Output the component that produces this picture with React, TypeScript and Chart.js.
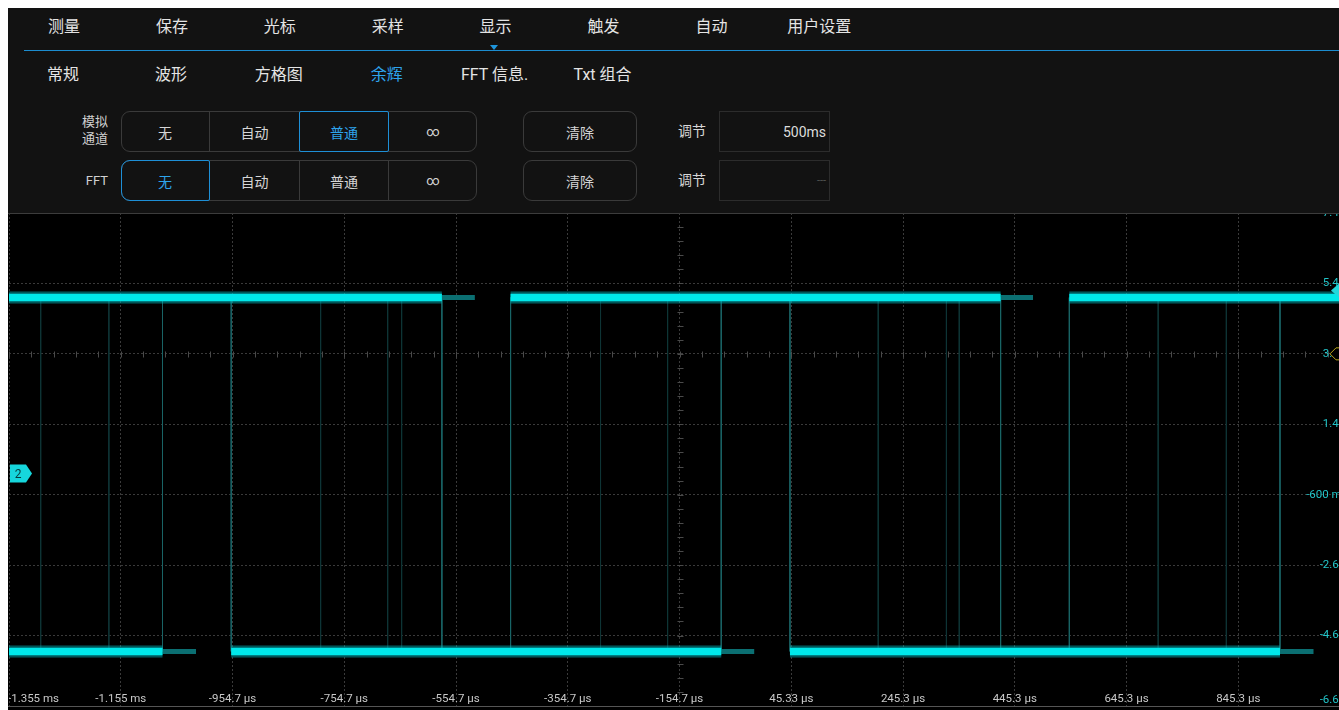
import React, { useEffect, useRef } from "react";
import { Chart, registerables } from "chart.js";

Chart.register(...registerables);

// ---------- data ----------
const menuTop = ["测量", "保存", "光标", "采样", "显示", "触发", "自动", "用户设置"];
const menuSub = ["常规", "波形", "方格图", "余辉", "FFT 信息.", "Txt 组合"];
const persistModes = ["无", "自动", "普通", "∞"];

const xTickValues = [-1354.7, -1154.7, -954.7, -754.7, -554.7, -354.7, -154.7, 45.33, 245.3, 445.3, 645.3, 845.3, 1045.3];
const xTickLabels = ["-1.355 ms", "-1.155 ms", "-954.7 µs", "-754.7 µs", "-554.7 µs", "-354.7 µs", "-154.7 µs", "45.33 µs", "245.3 µs", "445.3 µs", "645.3 µs", "845.3 µs", "1.045 ms"];
const yTickValues = [7.4, 5.4, 3.4, 1.4, -0.6, -2.6, -4.6, -6.6];
const yTickLabels = ["7.4 V", "5.4 V", "3.4 V", "1.4 V", "-600 mV", "-2.6 V", "-4.6 V", "-6.6 V"];

const highLevel = 5.0;
const lowLevel = -5.05;
// [start µs, end µs]
const highSegments = [[-1354.7, -580], [-457, 420], [543, 1045.3]];
const lowSegments = [[-1354.7, -1080], [-957, -80], [43, 920]];
const fadeHighSegments = [[-580, -521], [420, 478]];
const fadeLowSegments = [[-1080, -1020], [-80, -21], [920, 980]];
const edgeTimes = [-1080, -957, -580, -457, -80, 43, 420, 543, 920];
const ghostEdgeTimes = [-1298, -1176, -797, -677, -652, -296, -176, 201, 323, 346, 702, 824];
const groundLevel = 0;
const triggerLevel = 3.4;
const channelMarkerLevel = 5.2;

// ---------- helpers ----------
const UI_FONT = "Roboto, 'Noto Sans CJK SC', sans-serif";

function segPoints(segs: number[][], level: number) {
  const pts: any[] = [];
  segs.forEach(([a, b]) => {
    pts.push({ x: a, y: level }, { x: b, y: level }, { x: b, y: null });
  });
  return pts;
}
function vertPoints(times: number[]) {
  const pts: any[] = [];
  times.forEach((t) => {
    pts.push({ x: t, y: highLevel }, { x: t, y: lowLevel }, { x: t, y: null });
  });
  return pts;
}

const scopePlugin = {
  id: "scopeOverlay",
  beforeDatasetsDraw(chart: any) {
    const { ctx, scales } = chart;
    const xs = scales.x, ys = scales.y;
    ctx.save();
    ctx.strokeStyle = "#4a4a4a";
    ctx.lineWidth = 1;
    const cy = Math.round(ys.getPixelForValue(3.4)) + 0.5;
    for (let v = -1354.7; v <= 1045.3; v += 40) {
      const px = Math.round(xs.getPixelForValue(v)) + 0.5;
      ctx.beginPath();
      ctx.moveTo(px, cy - 3);
      ctx.lineTo(px, cy + 3);
      ctx.stroke();
    }
    const cx = Math.round(xs.getPixelForValue(-154.7)) + 0.5;
    for (let v = -6.6; v <= 7.4; v += 0.4) {
      const py = Math.round(ys.getPixelForValue(v)) + 0.5;
      ctx.beginPath();
      ctx.moveTo(cx - 3, py);
      ctx.lineTo(cx + 3, py);
      ctx.stroke();
    }
    ctx.restore();
  },
  afterDatasetsDraw(chart: any) {
    const { ctx, chartArea, scales } = chart;
    const xs = scales.x, ys = scales.y;
    ctx.save();
    ctx.font = "11.5px Roboto, sans-serif";
    ctx.textBaseline = "middle";
    // x labels (only those that fit inside the plot)
    ctx.fillStyle = "#c8c8c8";
    xTickValues.forEach((v, i) => {
      const px = xs.getPixelForValue(v);
      const w = ctx.measureText(xTickLabels[i]).width;
      if (i > 0 && px + w / 2 > chartArea.right - 10) return;
      ctx.textAlign = i === 0 ? "left" : "center";
      ctx.fillText(xTickLabels[i], i === 0 ? chartArea.left - 1 : px, chartArea.bottom - 7);
    });
    // y labels
    ctx.fillStyle = "#22c4c8";
    ctx.textAlign = "right";
    yTickValues.forEach((v, i) => {
      let py = ys.getPixelForValue(v);
      if (py > chartArea.bottom - 6) py = chartArea.bottom - 6;
      ctx.fillText(yTickLabels[i], chartArea.right - 1, py);
    });
    // ground marker "2"
    const gy = ys.getPixelForValue(groundLevel);
    const gx = chartArea.left + 1;
    ctx.fillStyle = "#16d6dc";
    ctx.beginPath();
    ctx.moveTo(gx, gy - 9);
    ctx.lineTo(gx + 16, gy - 9);
    ctx.lineTo(gx + 22, gy);
    ctx.lineTo(gx + 16, gy + 9);
    ctx.lineTo(gx, gy + 9);
    ctx.closePath();
    ctx.fill();
    ctx.fillStyle = "#063a3c";
    ctx.font = "12px Roboto, sans-serif";
    ctx.textAlign = "center";
    ctx.fillText("2", gx + 8, gy + 1);
    // trigger marker (yellow outline)
    const ty = ys.getPixelForValue(triggerLevel);
    const tx = chartArea.right - 20;
    ctx.fillStyle = "#000";
    ctx.strokeStyle = "#b7a419";
    ctx.lineWidth = 1;
    ctx.beginPath();
    ctx.moveTo(tx, ty);
    ctx.lineTo(tx + 6, ty - 6);
    ctx.lineTo(tx + 20, ty - 6);
    ctx.lineTo(tx + 20, ty + 6);
    ctx.lineTo(tx + 6, ty + 6);
    ctx.closePath();
    ctx.fill();
    ctx.stroke();
    // channel level arrow (cyan)
    const cy2 = ys.getPixelForValue(channelMarkerLevel);
    const ax = chartArea.right - 19;
    ctx.fillStyle = "#20d8dc";
    ctx.beginPath();
    ctx.moveTo(ax, cy2);
    ctx.lineTo(ax + 8, cy2 - 7);
    ctx.lineTo(ax + 19, cy2 - 7);
    ctx.lineTo(ax + 19, cy2 + 7);
    ctx.lineTo(ax + 8, cy2 + 7);
    ctx.closePath();
    ctx.fill();
    ctx.restore();
  },
};

function ScopeChart() {
  const ref = useRef<HTMLCanvasElement | null>(null);
  useEffect(() => {
    if (!ref.current) return;
    const lineDs = (data: any[], color: string, width: number) => ({
      data,
      borderColor: color,
      borderWidth: width,
      pointRadius: 0,
      spanGaps: false,
      tension: 0,
      fill: false,
      borderCapStyle: "butt",
    });
    const chart = new Chart(ref.current, {
      type: "line",
      data: {
        datasets: [
          lineDs(segPoints(highSegments, highLevel), "#00e8ea", 7),
          lineDs(segPoints(lowSegments, lowLevel), "#00e8ea", 7),
          lineDs(segPoints(highSegments, highLevel), "rgba(0,200,205,0.5)", 10),
          lineDs(segPoints(lowSegments, lowLevel), "rgba(0,200,205,0.5)", 10),
          lineDs(segPoints(highSegments, highLevel), "rgba(0,160,165,0.3)", 13),
          lineDs(segPoints(lowSegments, lowLevel), "rgba(0,160,165,0.3)", 13),
          lineDs(segPoints(fadeHighSegments, highLevel), "#0b6f72", 5),
          lineDs(segPoints(fadeLowSegments, lowLevel), "#0b6f72", 5),
          lineDs(vertPoints(edgeTimes), "#1a6466", 1),
          lineDs(vertPoints(ghostEdgeTimes), "#0f3536", 1),
        ] as any,
      },
      options: {
        animation: false,
        responsive: false,
        maintainAspectRatio: false,
        events: [],
        layout: { padding: 0 },
        plugins: { legend: { display: false }, tooltip: { enabled: false } },
        scales: {
          x: {
            type: "linear",
            min: -1354.7,
            max: 1045.3,
            afterBuildTicks: (axis: any) => {
              axis.ticks = xTickValues.map((v) => ({ value: v }));
            },
            ticks: { display: false },
            grid: { color: "#3a3a3a", lineWidth: 1, drawTicks: false },
            border: { display: false, dash: [2, 2] },
          },
          y: {
            type: "linear",
            position: "right",
            min: -6.6,
            max: 7.4,
            afterBuildTicks: (axis: any) => {
              axis.ticks = yTickValues.map((v) => ({ value: v }));
            },
            ticks: { display: false },
            grid: { color: "#3a3a3a", lineWidth: 1, drawTicks: false },
            border: { display: false, dash: [2, 2] },
          },
        },
      } as any,
      plugins: [scopePlugin as any],
    });
    return () => chart.destroy();
  }, []);
  return (
    <canvas
      ref={ref}
      width={1341}
      height={493}
      style={{ position: "absolute", left: 1, top: 205, width: 1341, height: 493 }}
    />
  );
}

const txt = (s: any): React.CSSProperties => ({
  position: "absolute",
  whiteSpace: "nowrap",
  ...s,
});

function Segmented({ top, selected }: { top: number; selected: number }) {
  const cells = [0, 88, 178, 267, 356];
  return (
    <div
      style={{
        position: "absolute",
        left: 113,
        top,
        width: 356,
        height: 41,
        border: "1px solid #3a3a3a",
        borderRadius: 9,
        boxSizing: "border-box",
      }}
    >
      {persistModes.map((m, i) => (
        <div
          key={i}
          style={{
            position: "absolute",
            left: cells[i] - 1,
            top: -1,
            width: cells[i + 1] - cells[i],
            height: 41,
            boxSizing: "border-box",
            borderLeft: i > 0 ? "1px solid #3a3a3a" : "none",
            display: "flex",
            alignItems: "center",
            justifyContent: "center",
            color: i === selected ? "#2ea4ec" : "#d6d6d6",
            fontSize: m === "∞" ? 13 : 14,
          }}
        >
          {m}
        </div>
      ))}
      <div
        style={{
          position: "absolute",
          left: cells[selected] - 1,
          top: -1,
          width: cells[selected + 1] - cells[selected] + 1,
          height: 41,
          boxSizing: "border-box",
          border: "1.5px solid #1e8fd6",
          borderRadius: selected === 0 ? "9px 2px 2px 9px" : 2,
        }}
      />
    </div>
  );
}

function Button({ top, label }: { top: number; label: string }) {
  return (
    <div
      style={{
        position: "absolute",
        left: 515,
        top,
        width: 114,
        height: 41,
        border: "1px solid #3a3a3a",
        borderRadius: 9,
        boxSizing: "border-box",
        display: "flex",
        alignItems: "center",
        justifyContent: "center",
        color: "#d6d6d6",
        fontSize: 14,
      }}
    >
      {label}
    </div>
  );
}

function InputBox({ top, value, dim }: { top: number; value: string; dim?: boolean }) {
  return (
    <div
      style={{
        position: "absolute",
        left: 711,
        top,
        width: 111,
        height: 41,
        border: "1px solid #2c2c2c",
        boxSizing: "border-box",
        display: "flex",
        alignItems: "center",
        justifyContent: "flex-end",
        paddingRight: 3,
        color: dim ? "#555" : "#dcdcdc",
        fontSize: dim ? 11 : 14,
      }}
    >
      {value}
    </div>
  );
}

export default function App() {
  return (
    <div
      style={{
        position: "fixed",
        left: 8,
        top: 8,
        width: 1331,
        height: 702,
        overflow: "hidden",
        background: "#121212",
        fontFamily: UI_FONT,
      }}
    >
      {/* top menu */}
      {menuTop.map((m, i) => (
        <div
          key={m}
          style={txt({
            left: 56 + i * 107.9 - 60,
            width: 120,
            top: 8,
            textAlign: "center",
            fontSize: 16,
            lineHeight: "22px",
            color: "#e4e4e4",
          })}
        >
          {m}
        </div>
      ))}
      <div style={{ position: "absolute", left: 16, top: 42, width: 1320, height: 1, background: "#1c8ccf" }} />
      <div
        style={{
          position: "absolute",
          left: 482,
          top: 37,
          width: 0,
          height: 0,
          borderLeft: "4px solid transparent",
          borderRight: "4px solid transparent",
          borderTop: "5px solid #1e95dc",
        }}
      />
      {menuSub.map((m, i) => (
        <div
          key={m}
          style={txt({
            left: 55 + i * 107.9 - 60,
            width: 120,
            top: 56,
            textAlign: "center",
            fontSize: 16,
            lineHeight: "22px",
            color: i === 3 ? "#2ea4ec" : "#e4e4e4",
          })}
        >
          {m}
        </div>
      ))}
      {/* controls */}
      <div style={txt({ right: 1331 - 100, top: 105, fontSize: 13, lineHeight: "17px", color: "#d0d0d0", textAlign: "right" })}>
        模拟
        <br />
        通道
      </div>
      <div style={txt({ right: 1331 - 100, top: 164, fontSize: 13, lineHeight: "18px", color: "#d0d0d0" })}>FFT</div>
      <Segmented top={103} selected={2} />
      <Segmented top={152} selected={0} />
      <Button top={103} label="清除" />
      <Button top={152} label="清除" />
      <div style={txt({ left: 664, width: 40, top: 114, textAlign: "center", fontSize: 14, lineHeight: "18px", color: "#d6d6d6" })}>调节</div>
      <div style={txt({ left: 664, width: 40, top: 163, textAlign: "center", fontSize: 14, lineHeight: "18px", color: "#d6d6d6" })}>调节</div>
      <InputBox top={103} value="500ms" />
      <InputBox top={152} value="---" dim />
      {/* plot */}
      <div style={{ position: "absolute", left: 0, top: 205, width: 1331, height: 497, background: "#000" }} />
      <ScopeChart />
      <div style={{ position: "absolute", left: 0, top: 205, width: 1331, height: 1, background: "#3c3c3c" }} />
      <div style={{ position: "absolute", left: 0, top: 698, width: 1331, height: 1, background: "#555" }} />
    </div>
  );
}
